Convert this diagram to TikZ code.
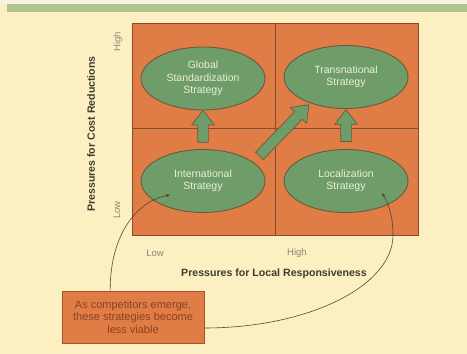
\documentclass[tikz,border=0pt]{standalone}
\usepackage{fontspec}
\setmainfont{Liberation Sans}
\usetikzlibrary{arrows.meta,calc,shapes.geometric,shapes.arrows}
\definecolor{paper}{HTML}{FCEFC2}
\definecolor{paperlight}{HTML}{F7F3E3}
\definecolor{bandgreen}{HTML}{AFC28F}
\definecolor{gridorange}{HTML}{E07C46}
\definecolor{gridline}{HTML}{8A4A2C}
\definecolor{ovalgreen}{HTML}{6F9D69}
\definecolor{ovalline}{HTML}{6A5A3A}
\definecolor{ovaltext}{HTML}{EEEEDC}
\definecolor{notetext}{HTML}{8A4222}
\definecolor{noteline}{HTML}{A9522A}
\definecolor{axistext}{HTML}{8C8A76}
\definecolor{titletext}{HTML}{3F3D30}
\definecolor{curveline}{HTML}{4E4A36}

\begin{document}
\begin{tikzpicture}[x=1pt,y=-1pt,
    strategy/.style={ellipse,draw=ovalline,line width=0.9pt,fill=ovalgreen,text=ovaltext,
      minimum width=124pt,minimum height=63pt,inner sep=0pt,align=center,
      font=\fontsize{10.5}{12.5}\selectfont},
    blockarrow/.style={single arrow,draw=ovalline,fill=ovalgreen,line width=0.7pt,
      minimum width=22pt,single arrow head extend=6pt,single arrow tip angle=75,inner sep=5pt},
    axislabel/.style={text=axistext,font=\fontsize{9.5}{10}\selectfont},
    axistitle/.style={text=titletext,font=\fontsize{10.6}{12}\selectfont\bfseries},
    linkcurve/.style={curveline,line width=0.6pt,-{Stealth[length=4.5pt,width=3.5pt]}}]
    \fill[paper] (0,0) rectangle (467,354);
    \fill[paperlight] (0,0) rectangle (467,4);
    \fill[bandgreen] (7,4) rectangle (467,12);
    \draw[gridline,fill=gridorange,line width=0.6pt] (132,23) rectangle (418,235);
    \draw[gridline,line width=0.6pt] (275,23) -- (275,235) (132,128) -- (418,128);
    \node[strategy] (glob) at (203,78.5) {Global\\Standardization\\Strategy};
    \node[strategy] (trans) at (346,77) {Transnational\\Strategy};
    \node[strategy] (intl) at (203,181) {International\\Strategy};
    \node[strategy] (local) at (346,181) {Localization\\Strategy};
    \node[blockarrow,minimum height=32pt,rotate=90] (uplow) at ($(intl.north)!0.5!(glob.south)$) {};
    \node[blockarrow,minimum height=32pt,rotate=90] (uphigh) at ($(local.north)!0.5!(trans.south)$) {};
    \node[blockarrow,minimum height=71pt,rotate=46] (across) at ($(intl)!0.55!(trans)+(0,9)$) {};
    \node[axislabel,rotate=90] (costhigh) at (118,42) {High};
    \node[axislabel,rotate=90] (costlow) at (117,210) {Low};
    \node[axistitle,rotate=90] (costtitle) at (91,134) {Pressures for Cost Reductions};
    \node[axislabel] (localow) at (155,253) {Low};
    \node[axislabel] (localhigh) at (297,253) {High};
    \node[axistitle] (localtitle) at (274,274) {Pressures for Local Responsiveness};
    \node[draw=noteline,fill=gridorange,line width=0.8pt,text=notetext,align=center,
      minimum width=142pt,minimum height=52pt,inner sep=0pt,
      font=\fontsize{11}{12.3}\selectfont] (note) at (133,317)
      {As competitors emerge,\\these strategies become\\less viable};
    \draw[linkcurve] ($(note.north west)!0.34!(note.north east)$)
      .. controls +(0,-60) and +(-30,5) .. ($(intl)+(-33,14)$);
    \draw[linkcurve] ($(note.east)+(0,11)$)
      .. controls +(104,0) and +(0,51) .. ($(local)+(47,54)$)
      .. controls +(0,-20) and +(6,10) .. ($(local)+(36,12)$);
  \end{tikzpicture}
\end{document}
